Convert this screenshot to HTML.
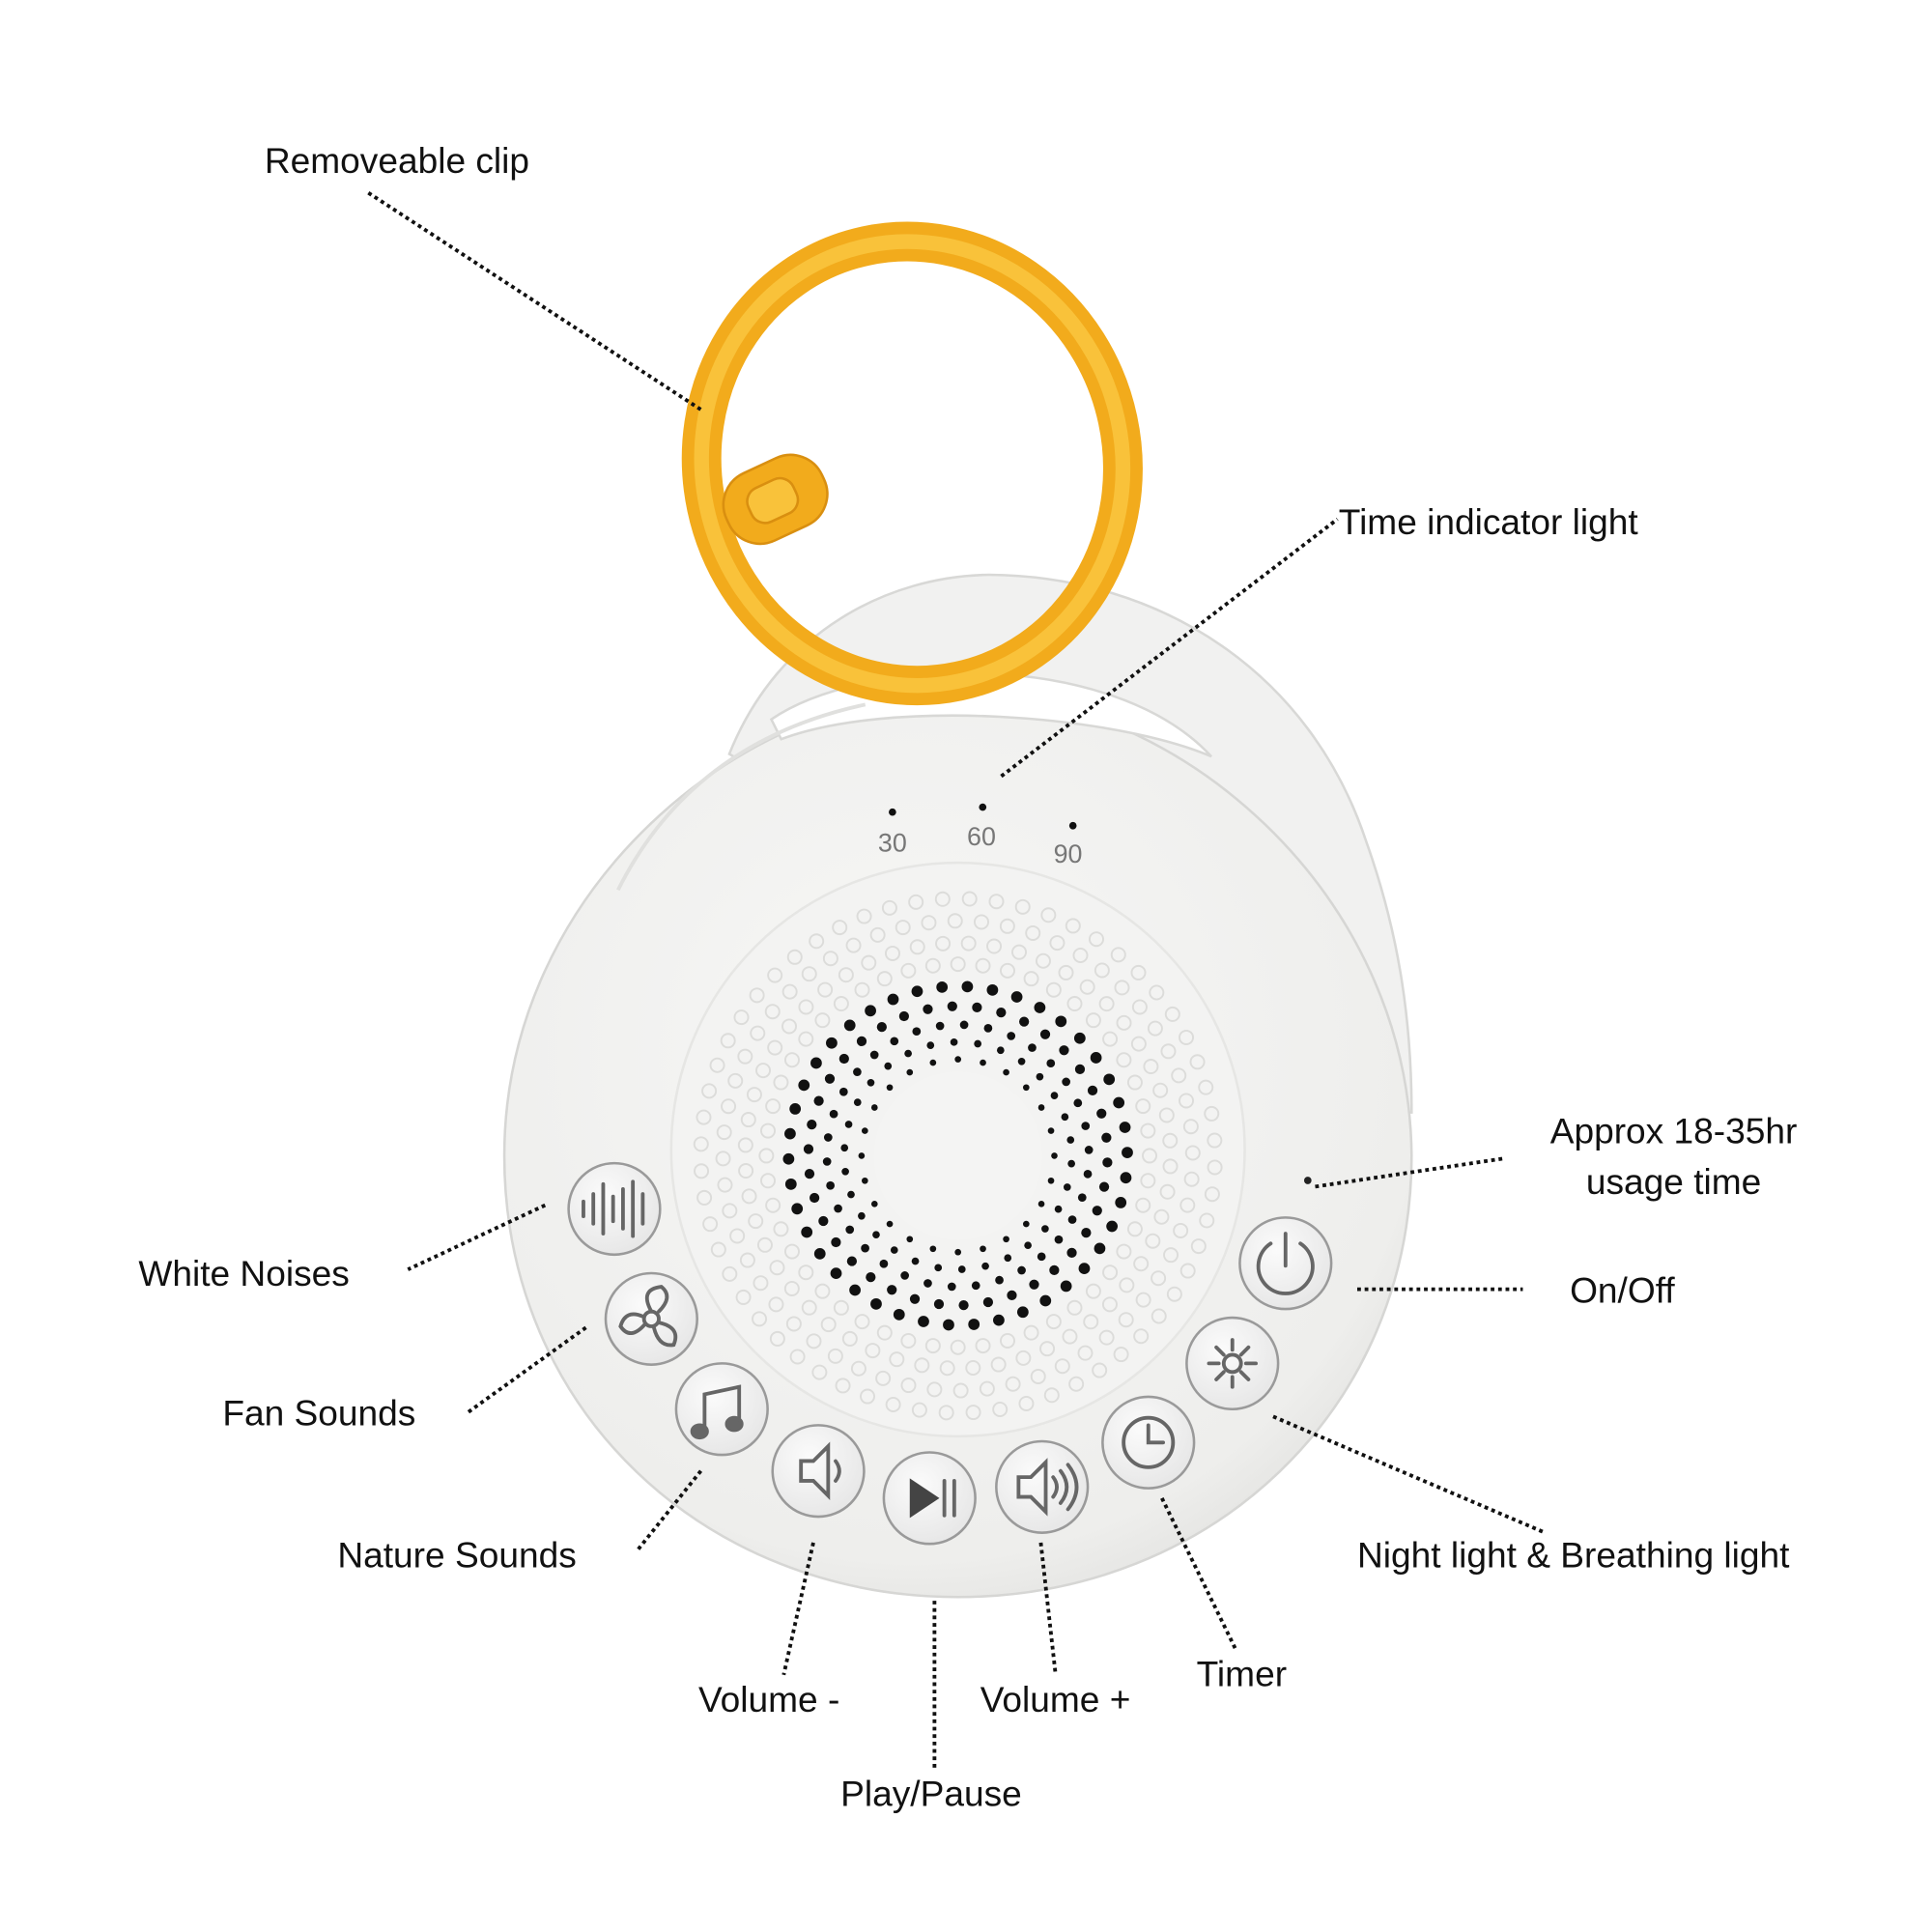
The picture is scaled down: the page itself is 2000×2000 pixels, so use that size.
<!DOCTYPE html>
<html><head><style>html,body{margin:0;padding:0;background:#fff}svg{display:block}</style></head>
<body>
<svg id="s" width="2000" height="2000" viewBox="0 0 1563 1563" xmlns="http://www.w3.org/2000/svg" font-family="Liberation Sans, sans-serif">
<defs>
<radialGradient id="bg" cx="0.45" cy="0.4" r="0.7"><stop offset="0" stop-color="#f7f7f6"/><stop offset="0.8" stop-color="#eeeeec"/><stop offset="1" stop-color="#dcdcda"/></radialGradient>
<radialGradient id="btn" cx="0.4" cy="0.35" r="0.7"><stop offset="0" stop-color="#fbfbfb"/><stop offset="1" stop-color="#e6e6e6"/></radialGradient>
</defs>
<!-- handle -->
<path d="M590 610 C630 510 720 466 800 465 C940 466 1060 545 1105 680 C1130 750 1142 820 1142 900 L1100 900 Z" fill="#f1f1f0" stroke="#d8d8d6" stroke-width="2"/>
<!-- body -->
<path d="M775 560 C950 560 1140 720 1142 935 C1142 1140 980 1292 775 1292 C570 1292 408 1140 408 935 C408 720 600 560 775 560 Z" fill="url(#bg)" stroke="#d6d6d4" stroke-width="2"/>
<!-- handle hole -->
<path d="M624 582 C700 530 900 525 980 612 C900 578 720 565 632 598 Z" fill="#fff" stroke="#d8d8d6" stroke-width="2"/>
<!-- ring -->
<ellipse cx="738" cy="375" rx="170" ry="180" transform="rotate(-12 738 375)" fill="none" stroke="#f2ab1c" stroke-width="32"/>
<ellipse cx="738" cy="375" rx="170" ry="180" transform="rotate(-12 738 375)" fill="none" stroke="#f9c23a" stroke-width="12"/>
<path d="M500 720 Q560 600 700 570" fill="none" stroke="#e0e0de" stroke-width="3"/>
<circle cx="775" cy="930" r="232" fill="#f3f3f2" stroke="#e6e6e4" stroke-width="2"/>
<g id="dots"></g>
<circle cx="775" cy="935" r="68" fill="#f4f4f3"/>
<!-- time indicators -->
<circle cx="722" cy="657" r="3" fill="#111"/><circle cx="795" cy="653" r="3" fill="#111"/><circle cx="868" cy="668" r="3" fill="#111"/>
<text x="722" y="689" font-size="21" fill="#777" text-anchor="middle">30</text>
<text x="794" y="684" font-size="21" fill="#777" text-anchor="middle">60</text>
<text x="864" y="698" font-size="21" fill="#777" text-anchor="middle">90</text>
<circle cx="1058" cy="955" r="3" fill="#222"/>
<!-- clasp -->
<g transform="rotate(-25 625 405)"><rect x="585" y="375" width="85" height="60" rx="28" fill="#f2ab1c" stroke="#d98f10" stroke-width="2"/><rect x="605" y="390" width="40" height="30" rx="12" fill="#f9c23a" stroke="#d98f10" stroke-width="2"/></g>
<!-- buttons -->
<g fill="url(#btn)" stroke="#9a9a9a" stroke-width="2">
<circle cx="497" cy="978" r="37"/><circle cx="527" cy="1067" r="37"/><circle cx="584" cy="1140" r="37"/><circle cx="662" cy="1190" r="37"/><circle cx="752" cy="1212" r="37"/><circle cx="843" cy="1203" r="37"/><circle cx="929" cy="1167" r="37"/><circle cx="997" cy="1103" r="37"/><circle cx="1040" cy="1022" r="37"/>
</g>
<g fill="none" stroke="#666" stroke-width="3" stroke-linecap="round">
<path d="M472 972v12M480 966v24M488 958v40M496 968v20M504 962v32M512 956v44M520 966v24"/>
<circle cx="527" cy="1067" r="6"/><path d="M527 1061 q-10 -18 8 -20 q10 8 -2 20 M533 1070 q18 4 12 18 q-12 2 -16 -14 M522 1071 q-12 14 -20 2 q4 -14 18 -8"/>
<path d="M570 1158 v-30 l28 -6 v30"/><ellipse cx="566" cy="1158" rx="6" ry="5" fill="#666"/><ellipse cx="594" cy="1152" rx="6" ry="5" fill="#666"/>
<path d="M648 1182h10l12 -12v40l-12 -12h-10z"/><path d="M676 1182q6 8 0 16"/>
<path d="M736 1196v32l24 -16z" fill="#444" stroke="none"/><path d="M764 1198v28M772 1198v28"/>
<path d="M824 1195h10l12 -12v40l-12 -12h-10z"/><path d="M852 1195q6 8 0 16M858 1190q10 13 0 26M864 1185q14 18 0 36"/>
<circle cx="929" cy="1167" r="20"/><path d="M929 1153v14h12"/>
<circle cx="997" cy="1103" r="7"/><path d="M997 1084v8M997 1114v8M978 1103h8M1008 1103h8M984 1090l6 6M1004 1110l6 6M1010 1090l-6 6M990 1110l-6 6"/>
<path d="M1028 1006a22 22 0 1 0 24 0M1040 998v26"/>
</g>
<!-- connectors -->
<g fill="none" stroke="#111" stroke-width="3" stroke-dasharray="3 3">
<path d="M298 156L568 332"/><path d="M810 628L1082 420"/><path d="M1064 960L1218 937"/><path d="M1098 1043H1232"/><path d="M1030 1146L1250 1240"/><path d="M940 1212L1000 1335"/><path d="M842 1248L854 1355"/><path d="M756 1295V1432"/><path d="M658 1248L634 1355"/><path d="M567 1190L515 1255"/><path d="M474 1074L378 1143"/><path d="M441 975L330 1027"/>
</g>
<g font-size="29" fill="#111" font-family="Liberation Sans, DejaVu Sans, sans-serif">
<text x="214" y="140">Removeable clip</text>
<text x="1083" y="432">Time indicator light</text>
<text x="1354" y="925" text-anchor="middle">Approx 18-35hr</text>
<text x="1354" y="966" text-anchor="middle">usage time</text>
<text x="1270" y="1054">On/Off</text>
<text x="1098" y="1268">Night light &amp; Breathing light</text>
<text x="968" y="1364">Timer</text>
<text x="793" y="1385">Volume +</text>
<text x="680" y="1461">Play/Pause</text>
<text x="565" y="1385">Volume -</text>
<text x="273" y="1268">Nature Sounds</text>
<text x="180" y="1153">Fan Sounds</text>
<text x="112" y="1040">White Noises</text>
</g>
</svg>
<script>
var g=document.getElementById('dots'),cx=775,cy=935,h='';
var rings=[[78,24,2.6],[92,30,3],[106,34,3.4],[121,38,4],[137,42,4.6]];
rings.forEach(function(r,i){for(var k=0;k<r[1];k++){var a=2*Math.PI*k/r[1]+i*0.07;h+='<circle cx="'+(cx+r[0]*Math.cos(a)).toFixed(1)+'" cy="'+(cy+r[0]*Math.sin(a)).toFixed(1)+'" r="'+r[2]+'" fill="#111"/>';}});
var out=[[155,48],[172,52],[190,56],[208,60]];
out.forEach(function(r,i){for(var k=0;k<r[1];k++){var a=2*Math.PI*k/r[1]+i*0.05;h+='<circle cx="'+(cx+r[0]*Math.cos(a)).toFixed(1)+'" cy="'+(cy+r[0]*Math.sin(a)).toFixed(1)+'" r="5.5" fill="none" stroke="#dcdcda" stroke-width="1.5"/>';}});
g.innerHTML=h;
</script>
</body></html>
